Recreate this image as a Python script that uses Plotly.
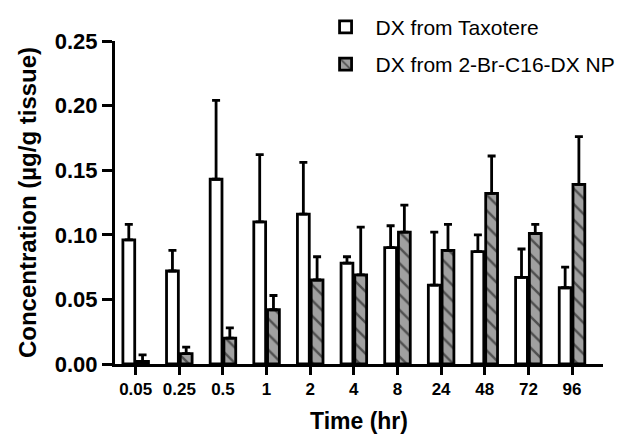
import plotly.graph_objects as go

categories = ["0.05", "0.25", "0.5", "1", "2", "4", "8", "24", "48", "72", "96"]
taxotere_mean = [0.096, 0.072, 0.143, 0.110, 0.116, 0.078, 0.090, 0.061, 0.087, 0.067, 0.059]
taxotere_err = [0.012, 0.016, 0.061, 0.052, 0.040, 0.005, 0.017, 0.041, 0.013, 0.022, 0.016]
np_mean = [0.002, 0.008, 0.020, 0.042, 0.065, 0.069, 0.102, 0.088, 0.132, 0.101, 0.139]
np_err = [0.005, 0.005, 0.008, 0.011, 0.018, 0.037, 0.021, 0.020, 0.029, 0.007, 0.037]
y_ticks = [0.00, 0.05, 0.10, 0.15, 0.20, 0.25]

FONT = "Liberation Sans, Arial, sans-serif"

fig = go.Figure()
fig.add_trace(go.Bar(
    x=categories, y=taxotere_mean, name="DX from Taxotere",
    legendgroup="a",
    marker=dict(color="white", line=dict(color="black", width=2.8)),
    error_y=dict(type="data", array=taxotere_err, arrayminus=[0]*len(taxotere_err),
                 symmetric=False, color="black", thickness=2.8, width=4),
))
fig.add_trace(go.Bar(
    x=categories, y=np_mean, name="DX from 2-Br-C16-DX NP",
    legendgroup="b",
    marker=dict(color="#a0a0a0", line=dict(color="black", width=2.8),
                pattern=dict(shape="\\", fgcolor="black", bgcolor="#a0a0a0",
                             size=11, solidity=0.22, fillmode="overlay")),
    error_y=dict(type="data", array=np_err, arrayminus=[0]*len(np_err),
                 symmetric=False, color="black", thickness=2.8, width=4),
))

# page body adds an 8px offset, so the figure is sized 626x426
fig.update_layout(
    width=626, height=426,
    margin=dict(l=107, r=31, t=33, b=70, autoexpand=False),
    plot_bgcolor="white", paper_bgcolor="white",
    barmode="group", bargap=0.37, bargroupgap=0.14,
    font=dict(family=FONT, color="black"),
    showlegend=True,
    legend=dict(
        x=0.411, y=1.106, xanchor="left", yanchor="top",
        font=dict(family=FONT, size=21, color="black"),
        traceorder="grouped", tracegroupgap=7,
        itemwidth=50, bgcolor="rgba(0,0,0,0)",
    ),
    xaxis=dict(
        type="category", range=[-0.474, 10.71],
        showline=True, linecolor="black", linewidth=3,
        ticks="outside", ticklen=8, tickwidth=3, tickcolor="black",
        tickfont=dict(family=FONT, size=17, color="black", weight="bold"),
        showgrid=False, zeroline=False,
        title=dict(text="<b>Time (hr)</b>", font=dict(family=FONT, size=23, color="black"), standoff=18),
    ),
    yaxis=dict(
        range=[0, 0.25], tickvals=y_ticks, ticktext=[f"{v:.2f}" for v in y_ticks],
        showline=True, linecolor="black", linewidth=3,
        ticks="outside", ticklen=10, tickwidth=3, tickcolor="black",
        tickfont=dict(family=FONT, size=22, color="black", weight="bold"),
        showgrid=False, zeroline=False,
        title=dict(text="<b>Concentration (µg/g tissue)</b>", font=dict(family=FONT, size=24, color="black"), standoff=12),
    ),
)

fig.write_html("out.html")
